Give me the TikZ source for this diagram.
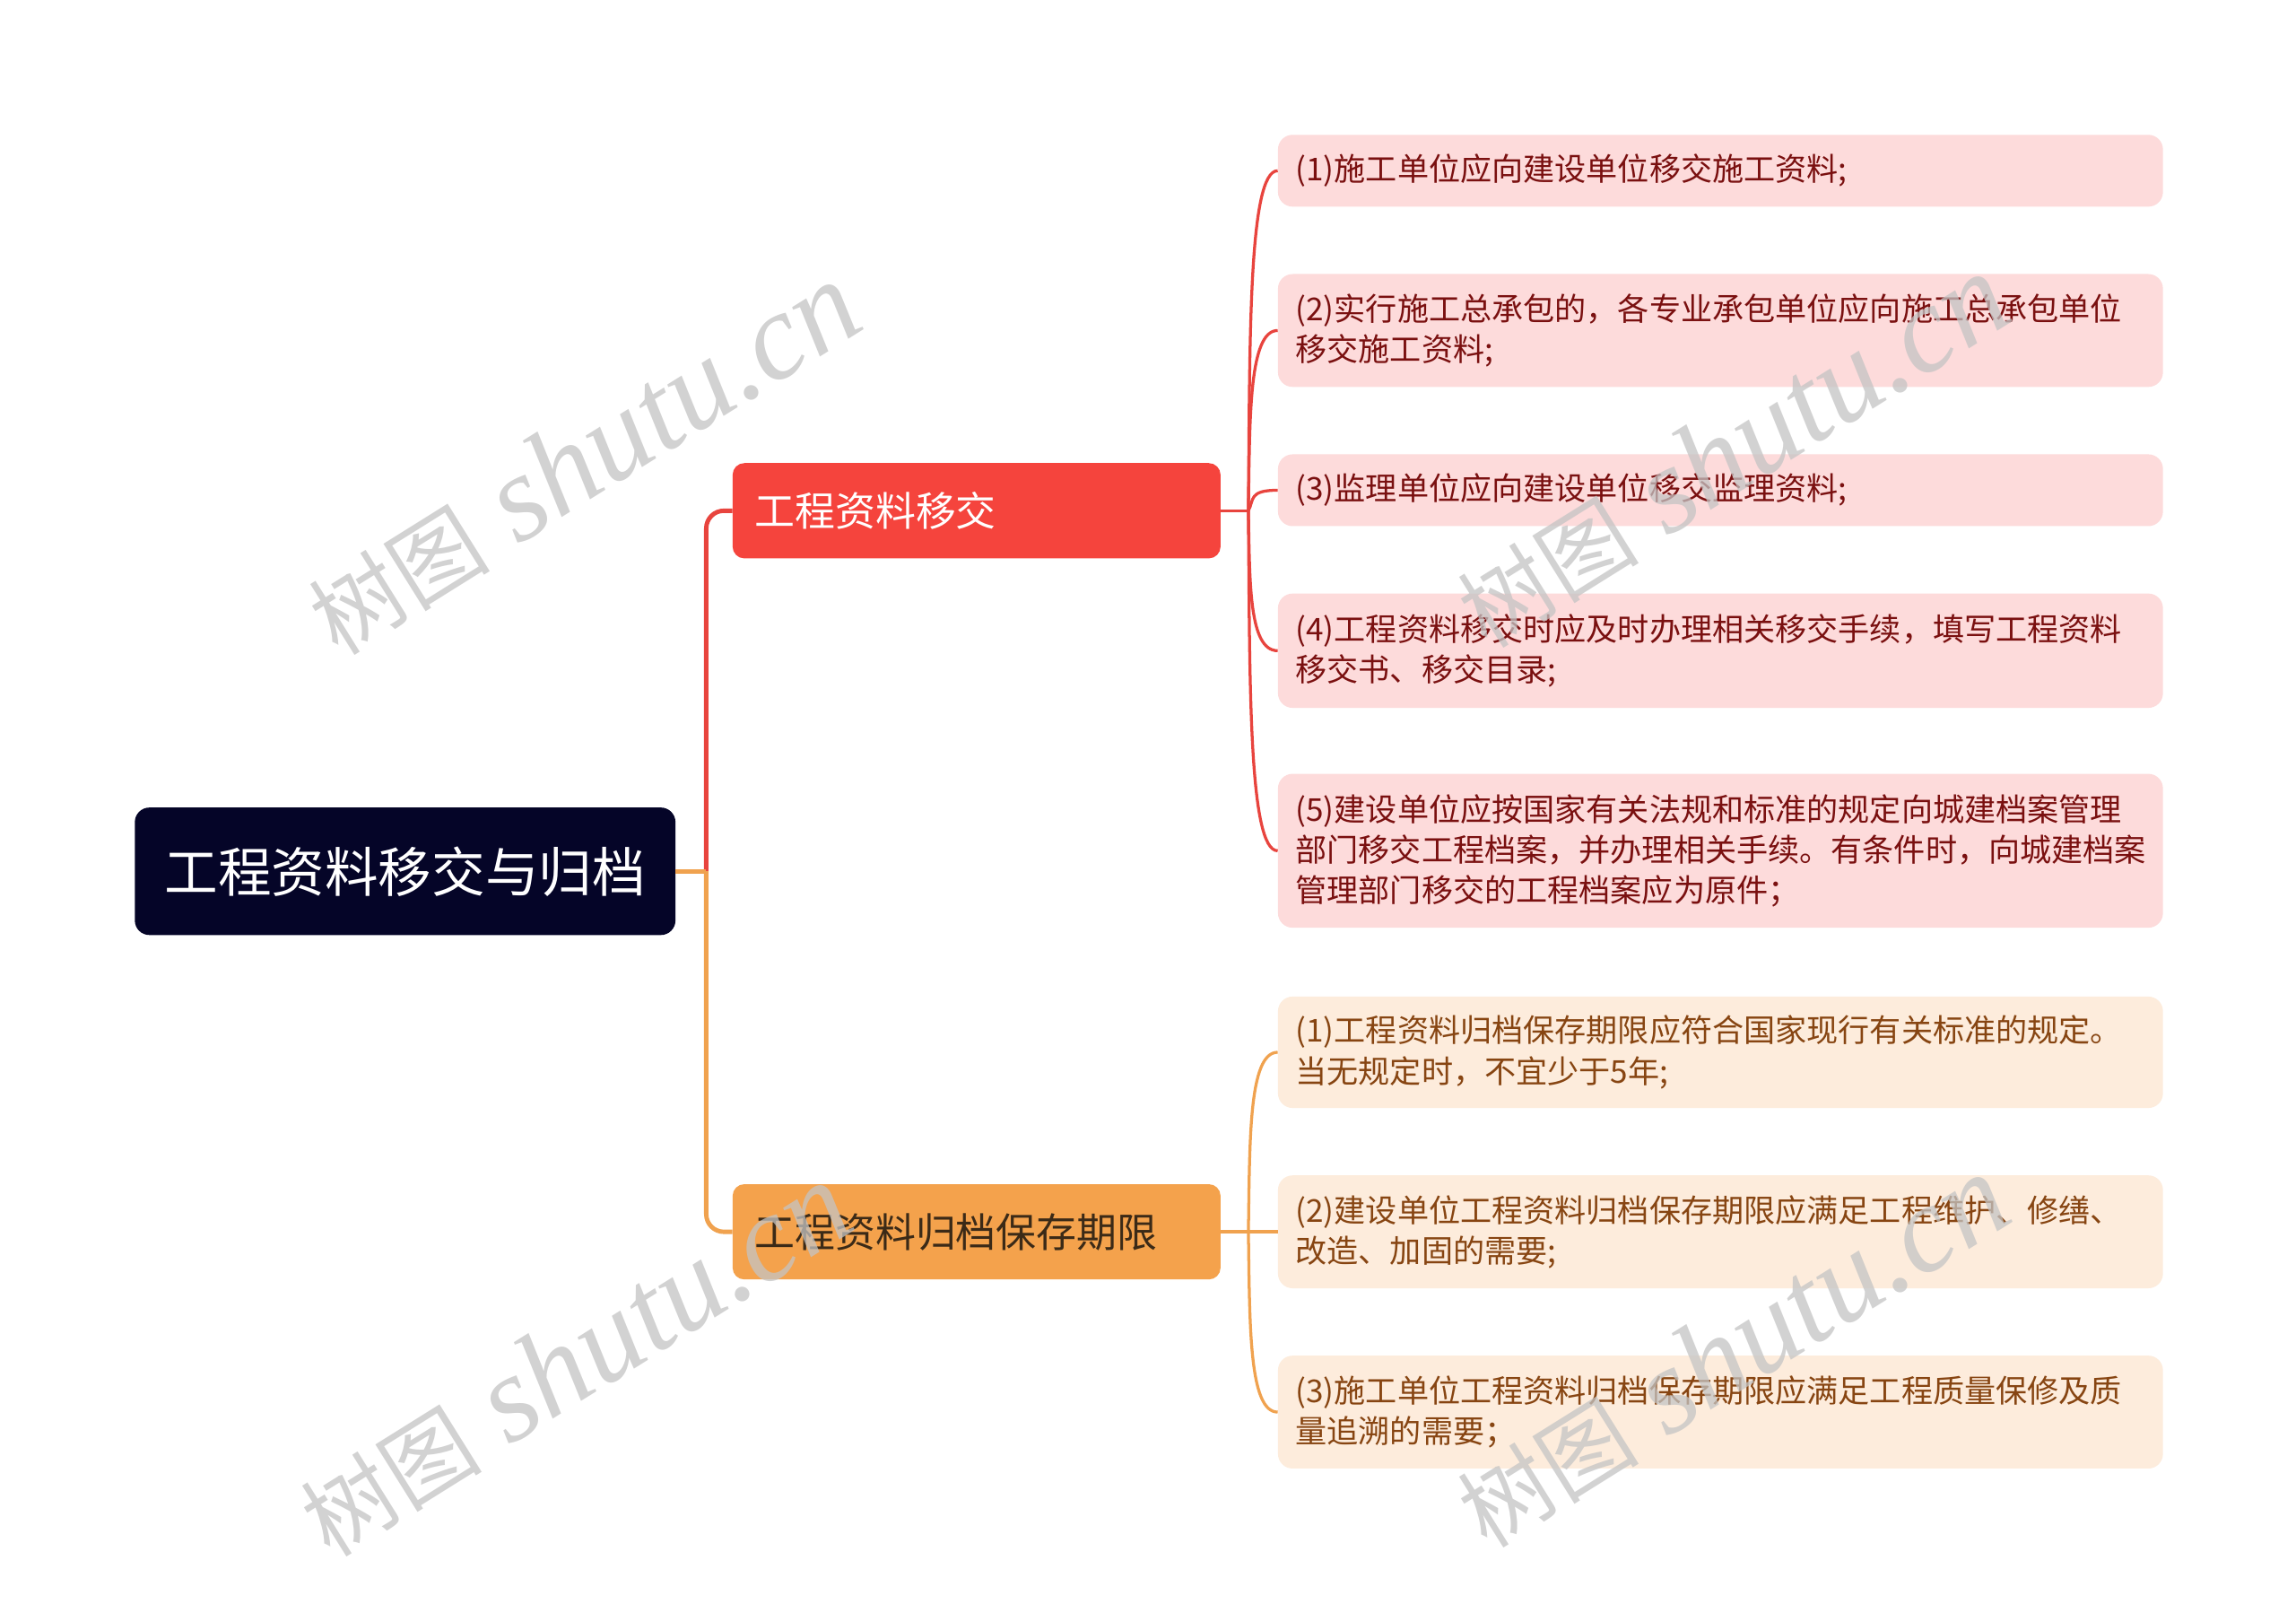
\documentclass[tikz,border=0pt]{standalone}
\usepackage{fontspec}
\setmainfont{Noto Sans CJK SC}
\newfontfamily\wmserif{Liberation Serif}
\newfontfamily\wmcjk{Noto Sans CJK SC}
\definecolor{rootfill}{HTML}{050528}
\definecolor{redb}{HTML}{F5443D}
\definecolor{orab}{HTML}{F4A24C}
\definecolor{redleaf}{HTML}{FDDBDB}
\definecolor{oraleaf}{HTML}{FDECDC}
\definecolor{redtext}{HTML}{7A1010}
\definecolor{oratext}{HTML}{874512}
\definecolor{redline}{HTML}{E8443E}
\definecolor{oraline}{HTML}{F0A24F}
\definecolor{btwotext}{HTML}{3B2A17}
\definecolor{wmgray}{HTML}{C4C4C4}
\newcommand{\wmtext}{{\wmcjk\fontsize{62}{66}\selectfont 树图}\hspace{20pt}{\wmserif\itshape\fontsize{84}{88}\selectfont shutu.cn}}
\begin{document}
\begin{tikzpicture}[x=1pt,y=-1pt,
  rootbox/.style={fill=rootfill, rounded corners=10pt, minimum width=369pt, minimum height=87pt, text=white, font=\fontsize{36.5}{44}\selectfont, inner sep=0pt},
  branchbox/.style={rounded corners=8pt, minimum width=333pt, minimum height=65pt, text width=303pt, inner xsep=15pt, inner ysep=0pt, align=left, font=\fontsize{27.5}{33}\selectfont},
  leafbox/.style={rounded corners=10pt, minimum width=604pt, text width=580pt, inner xsep=12pt, inner ysep=0pt, align=left, font=\fontsize{21.5}{27.7}\selectfont, anchor=west},
  redleafbox/.style={leafbox, fill=redleaf, text=redtext},
  oraleafbox/.style={leafbox, fill=oraleaf, text=oratext},
  redtrunk/.style={draw=redline, line width=3pt},
  oratrunk/.style={draw=oraline, line width=3pt},
  redtwig/.style={draw=redline, line width=2pt},
  oratwig/.style={draw=oraline, line width=2pt},
  wm/.style={text=wmgray, opacity=0.75, inner sep=0pt}
]
\fill[white] (0,0) rectangle (1567,1094);
\useasboundingbox (0,0) rectangle (1567,1094);

% nodes
\node[rootbox] (root) at (276.5,594.5) {工程资料移交与归档};
\node[branchbox, fill=redb, text=white] (b1) at (666.5,348.5) {工程资料移交};
\node[branchbox, fill=orab, text=btwotext] (b2) at (666.5,840.5) {工程资料归档保存期限};

\node[redleafbox, minimum height=49pt] (l1) at (872,116.5) {(1)施工单位应向建设单位移交施工资料;};
\node[redleafbox, minimum height=77pt] (l2) at (872,225.5) {(2)实行施工总承包的，各专业承包单位应向施工总承包单位\\移交施工资料;};
\node[redleafbox, minimum height=49pt] (l3) at (872,334.5) {(3)监理单位应向建设单位移交监理资料;};
\node[redleafbox, minimum height=78pt] (l4) at (872,444) {(4)工程资料移交时应及时办理相关移交手续，填写工程资料\\移交书、移交目录;};
\node[redleafbox, minimum height=105pt] (l5) at (872,580.5) {(5)建设单位应按国家有关法规和标准的规定向城建档案管理\\部门移交工程档案，并办理相关手续。有条件时，向城建档案\\管理部门移交的工程档案应为原件；};

\node[oraleafbox, minimum height=76pt] (o1) at (872,718) {(1)工程资料归档保存期限应符合国家现行有关标准的规定。\\当无规定时，不宜少于5年;};
\node[oraleafbox, minimum height=77pt] (o2) at (872,840.5) {(2)建设单位工程资料归档保存期限应满足工程维护、修缮、\\改造、加固的需要;};
\node[oraleafbox, minimum height=77pt] (o3) at (872,963.5) {(3)施工单位工程资料归档保存期限应满足工程质量保修及质\\量追溯的需要；};

% junctions
\coordinate (J) at (482,594.5);
\coordinate (K1) at (852,348.5);
\coordinate (K2) at (852,840.5);

% trunk connectors
\draw[redtrunk, rounded corners=12pt] (J) |- (b1.west);
\draw[oratrunk] (root.east) -- (J);
\draw[oratrunk, rounded corners=12pt] (J) |- (b2.west);

% red twigs
\draw[redtwig] (b1.east) -- (K1);
\draw[redtwig] (K1) .. controls (853,232) and (852,116.5) .. (l1.west);
\draw[redtwig] (K1) .. controls (853,287) and (852,225.5) .. (l2.west);
\draw[redtwig] (K1) .. controls (856,341) and (852,334.5) .. (l3.west);
\draw[redtwig] (K1) .. controls (853,396) and (852,444) .. (l4.west);
\draw[redtwig] (K1) .. controls (853,465) and (852,580.5) .. (l5.west);

% orange twigs
\draw[oratwig] (b2.east) -- (K2);
\draw[oratwig] (K2) .. controls (853,779) and (852,718) .. (o1.west);
\draw[oratwig] (K2) -- (o2.west);
\draw[oratwig] (K2) .. controls (853,902) and (852,963.5) .. (o3.west);

% watermarks
\node[wm, rotate=32] (w1) at (398,313) {\wmtext};
\node[wm, rotate=32] (w2) at (1182,308) {\wmtext};
\node[wm, rotate=32] (w3) at (392,928) {\wmtext};
\node[wm, rotate=32] (w4) at (1182,922) {\wmtext};
\end{tikzpicture}
\end{document}
